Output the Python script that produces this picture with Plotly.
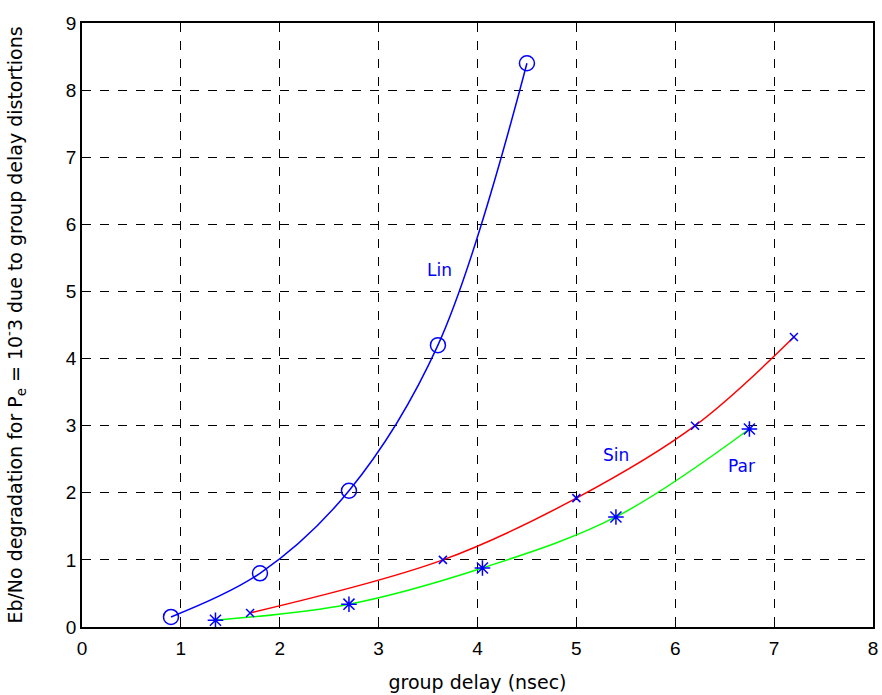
import plotly.graph_objects as go

# group delay (nsec) and Eb/No degradation (dB) for each distortion shape
lin_x = [0.9, 1.8, 2.7, 3.6, 4.5]
lin_y = [0.15, 0.80, 2.03, 4.20, 8.40]

sin_x = [1.7, 3.65, 5.0, 6.2, 7.2]
sin_y = [0.21, 1.00, 1.92, 3.00, 4.32]

par_x = [1.35, 2.7, 4.05, 5.4, 6.75]
par_y = [0.10, 0.34, 0.88, 1.64, 2.95]

labels = [("Lin", 3.62, 5.32), ("Sin", 5.40, 2.56), ("Par", 6.67, 2.40)]

x_ticks = list(range(0, 9))
y_ticks = list(range(0, 10))

TICK_FONT = "Liberation Sans"
TEXT_FONT = "DejaVu Sans"
BLUE = "#0000ff"

fig = go.Figure()

# smooth curves
fig.add_trace(go.Scatter(x=lin_x, y=lin_y, mode="lines", line=dict(color=BLUE, width=1.5, shape="spline")))
fig.add_trace(go.Scatter(x=sin_x, y=sin_y, mode="lines", line=dict(color="#ff0000", width=1.5, shape="spline")))
fig.add_trace(go.Scatter(x=par_x, y=par_y, mode="lines", line=dict(color="#00ff00", width=1.5, shape="spline")))

# computed points
fig.add_trace(go.Scatter(x=lin_x, y=lin_y, mode="markers",
                         marker=dict(symbol="circle-open", size=15, color=BLUE, line=dict(width=1.5))))
fig.add_trace(go.Scatter(x=sin_x, y=sin_y, mode="markers",
                         marker=dict(symbol="x-thin-open", size=8, color=BLUE, line=dict(width=1.5, color=BLUE))))
fig.add_trace(go.Scatter(x=par_x, y=par_y, mode="markers",
                         marker=dict(symbol="asterisk-open", size=13, color=BLUE, line=dict(width=1.5, color=BLUE))))

for text, x, y in labels:
    fig.add_annotation(x=x, y=y, text=text, showarrow=False,
                       font=dict(family=TEXT_FONT, size=17, color=BLUE))

axis_common = dict(
    showline=True, linecolor="black", linewidth=1.5, mirror=True,
    ticks="inside", ticklen=5, tickcolor="black", tickwidth=1,
    showgrid=True, gridcolor="black", griddash="dash", gridwidth=1,
    zeroline=False, automargin=False,
    tickfont=dict(family=TICK_FONT, size=19, color="black"),
)

fig.update_xaxes(range=[0, 8], tickvals=x_ticks, ticklabelstandoff=3,
                 title=dict(text="group delay (nsec)", font=dict(family=TEXT_FONT, size=19, color="black"), standoff=18),
                 **axis_common)
fig.update_yaxes(range=[0, 9], tickvals=y_ticks,
                 title=dict(text="Eb/No degradation for P<sub>e</sub> = 10<sup>-</sup>3 due to group delay distortions",
                            font=dict(family=TEXT_FONT, size=19, color="black"), standoff=38),
                 **axis_common)

fig.update_layout(
    width=882, height=695,
    margin=dict(l=82, r=9, t=23, b=68),
    plot_bgcolor="white", paper_bgcolor="white",
    showlegend=False,
)

fig.write_html("out.html")
